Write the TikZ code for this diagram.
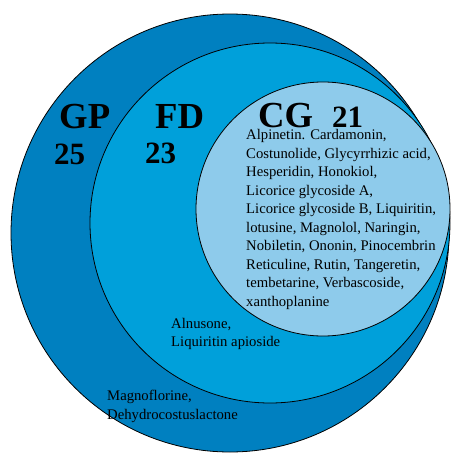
\documentclass[tikz,border=0pt]{standalone}
\usepackage{fontspec}
\setmainfont{Liberation Serif}
\usepackage{tikz}
\definecolor{gpblue}{RGB}{0,128,192}
\definecolor{fdblue}{RGB}{0,160,218}
\definecolor{cgblue}{RGB}{142,203,235}
\begin{document}
\begin{tikzpicture}[x=1pt,y=-1pt,
	set/.style={circle, draw, line width=0.8pt, inner sep=0pt, minimum size=#1},
	setname/.style={anchor=base west, inner sep=0pt, font=\fontsize{36.7}{40}\bfseries},
	setcount/.style={anchor=base west, inner sep=0pt, font=\fontsize{31}{34}\bfseries},
	members/.style={anchor=north west, inner sep=0pt, align=left, font=\fontsize{14.7}{18.5}\selectfont}
	]
		\useasboundingbox (0,0) rectangle (450,455);

		\node[set=438pt, fill=gpblue](GP) at (230,233) {};
		\node[set=360pt, fill=fdblue](FD) at (270,223) {};
		\node[set=254pt, fill=cgblue](CG) at (323,209) {};

		\node[setname](GPn) at (59,128) {GP};
		\node[setcount](GPc) at (54,164) {25};

		\node[setname](FDn) at (155,128) {FD};
		\node[setcount](FDc) at (145,163) {23};

		\node[setname](CGn) at (258,127) {CG};
		\node[setcount](CGc) at (332,127) {21};

		\node[members](CGm) at (246,129.5) {
			Alpinetin. Cardamonin,\\
			Costunolide, Glycyrrhizic acid,\\
			Hesperidin, Honokiol,\\
			Licorice glycoside A,\\
			Licorice glycoside B, Liquiritin,\\
			lotusine, Magnolol, Naringin,\\
			Nobiletin, Ononin, Pinocembrin\\
			Reticuline, Rutin, Tangeretin,\\
			tembetarine, Verbascoside,\\
			xanthoplanine
		};

		\node[members](FDm) at (171,318) {
			Alnusone,\\
			Liquiritin apioside
		};

		\node[members](GPm) at (107,390) {
			Magnoflorine,\\
			Dehydrocostuslactone
		};

	\end{tikzpicture}
\end{document}
